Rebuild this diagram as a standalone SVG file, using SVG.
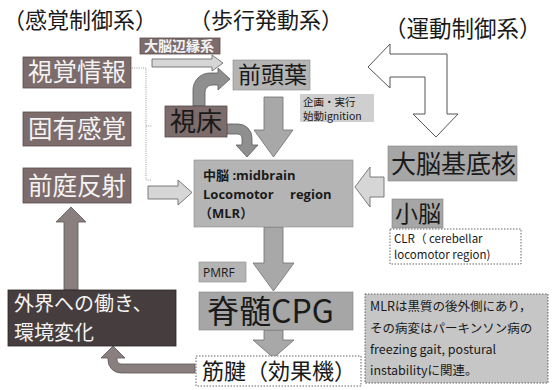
<svg xmlns="http://www.w3.org/2000/svg" width="552" height="390" viewBox="0 0 552 390">
<style>
text{font-family:"Noto Sans CJK JP","Noto Sans",sans-serif;}
.title{font-size:22px;fill:#1a1a1a;}
.dark{fill:#7c6c6c;stroke:#5a4d4d;stroke-width:0.8;}
.light{fill:#b4b4b4;stroke:#8a8a8a;stroke-width:0.6;}
.mid{fill:#a6a6a6;stroke:#808080;stroke-width:0.6;}
.wt{fill:#f4f2f2;}
.bt{fill:#1a1a1a;}
.dotbox{fill:#ffffff;stroke:#555;stroke-width:0.9;stroke-dasharray:1.5 1.5;}
.arrG{fill:#a8a8a8;stroke:#6e6e6e;stroke-width:0.8;}
.arrC{fill:#8f8f8f;stroke:#5c5c5c;stroke-width:0.8;}
.arrM{fill:#8a7f7f;stroke:#5e5555;stroke-width:0.8;}
.arrL{fill:#d6d6d6;stroke:#6e6e6e;stroke-width:0.9;}
.arrW{fill:#ffffff;stroke:#555;stroke-width:1;}
.lat{font-family:"Open Sans","Noto Sans CJK JP",sans-serif;}
</style>

<g id="titles">
<text class="title" x="3" y="28">（感覚制御系）</text>
<text class="title" x="189" y="28">（歩行発動系）</text>
<text class="title" x="384" y="37" style="font-size:22.5px">（運動制御系）</text>
</g>

<g id="connectors">
<path class="arrL" d="M152,59 H212 V55 L223,63 L212,71 V67 H152 Z"/>
<path class="arrC" d="M193,106 V90 A17,17 0 0 1 210,73 H218 V68 L230,79 L218,90 V85 H212 A7,7 0 0 0 205,92 V106 Z"/>
<path class="arrC" d="M227,124 H238 A14,14 0 0 1 252,138 V145 H258 L247,157 L236,145 H242 V138 A4,4 0 0 0 238,134 H227 Z"/>
<path class="arrG" d="M264,97 H283 V130 H293 L273.5,157 L254,130 H264 Z"/>
<path class="arrW" d="M368,67 L390,44 V54 H447 V114 H458 L436,137 L413,114 H425 V77 H390 V88 Z"/>
<path class="arrL" d="M148,186 H178 V180 L192,192.5 L178,205 V199 H148 Z"/>
<path class="arrL" d="M384,177 H370 V167 L355,187 L370,207 V197 H384 Z"/>
<path class="arrG" d="M264,227 H283 V263 H294 L273.5,291 L253,263 H264 Z"/>
<path class="arrG" d="M264,330 H283 V340 H294 L273.5,358 L253,340 H264 Z"/>
<path class="arrM" d="M195,373 H121 A13,13 0 0 1 108,360 V358 H101 L113,346 L125,358 H117 V360 A4,4 0 0 0 121,364 H195 Z"/>
<path class="arrM" d="M64,290 V222 H56 L71,207 L86,222 H78 V290 Z"/>
<path d="M132,68 H146 V180 H152 M146,126 H152" fill="none" stroke="#9a9a9a" stroke-width="1" stroke-dasharray="1 1.2"/>
</g>

<g id="limbic">
<rect class="dark" x="140" y="38" width="80" height="16"/>
<text class="wt" x="144" y="51" style="font-size:14px;font-weight:bold">大脳辺縁系</text>
</g>

<g id="visual">
<rect class="dark" x="23" y="57" width="108" height="31"/>
<text class="wt" x="28" y="81" style="font-size:24.5px">視覚情報</text>
</g>

<g id="proprio">
<rect class="dark" x="23" y="112" width="108" height="34"/>
<text class="wt" x="28" y="138" style="font-size:24.5px">固有感覚</text>
</g>

<g id="vestibular">
<rect class="dark" x="23" y="168" width="108" height="35"/>
<text class="wt" x="28" y="195" style="font-size:24.5px">前庭反射</text>
</g>

<g id="frontal">
<rect class="light" x="233" y="60" width="77" height="30"/>
<text class="bt" x="238" y="83" style="font-size:23px">前頭葉</text>
</g>

<g id="thalamus">
<rect class="dark" x="165" y="106" width="62" height="31"/>
<text class="bt" x="170" y="131" style="font-size:26px">視床</text>
</g>

<g id="ignition">
<rect x="300" y="94" width="74" height="28" fill="#cfcfcf"/>
<text class="bt" x="303" y="106" style="font-size:10.5px">企画・実行</text>
<text class="bt" x="303" y="120" style="font-size:10.5px">始動ignition</text>
</g>

<g id="mlr">
<rect class="light" x="194" y="160" width="159" height="67"/>
<text class="bt lat" x="203" y="180" style="font-size:13px;font-weight:bold">中脳 :midbrain</text>
<text class="bt lat" x="203" y="199" style="font-size:13px;font-weight:bold">Locomotor</text>
<text class="bt lat" x="290" y="199" style="font-size:13px;font-weight:bold">region</text>
<text class="bt lat" x="199" y="218" style="font-size:13px;font-weight:bold">（MLR）</text>
</g>

<g id="basal">
<rect class="mid" x="388" y="146" width="129" height="35"/>
<text class="bt" x="391" y="173" style="font-size:25px">大脳基底核</text>
</g>

<g id="cerebellum">
<rect class="mid" x="392" y="199" width="51" height="29"/>
<text class="bt" x="395" y="222" style="font-size:23px">小脳</text>
</g>

<g id="clr">
<rect class="dotbox" x="390" y="229" width="131" height="35"/>
<text class="bt" x="394" y="243" style="font-size:11.5px">CLR（ cerebellar</text>
<text class="bt" x="394" y="259" style="font-size:11.5px">locomotor region)</text>
</g>

<g id="pmrf">
<rect class="light" x="199" y="262" width="47" height="20"/>
<text class="bt lat" x="203" y="277" style="font-size:12px">PMRF</text>
</g>

<g id="cpg">
<rect class="mid" x="199" y="292" width="154" height="38"/>
<text class="bt" x="207" y="323" style="font-size:32px">脊髄CPG</text>
</g>

<g id="muscle">
<rect class="dotbox" x="196" y="356" width="165" height="30"/>
<text class="bt" x="202" y="379" style="font-size:22px">筋腱（効果機）</text>
</g>

<g id="environment">
<rect x="8" y="290" width="168" height="56" fill="#463e3e" stroke="#2a2424" stroke-width="0.8"/>
<text class="wt" x="14" y="311" style="font-size:20px">外界への働き、</text>
<text class="wt" x="14" y="340" style="font-size:20px">環境変化</text>
</g>

<g id="note">
<rect x="365" y="294" width="183" height="89" fill="#c6c6c6" stroke="#555" stroke-width="0.9" stroke-dasharray="1.5 1.5"/>
<text class="bt" x="370" y="311" style="font-size:12.5px">MLRは黒質の後外側にあり，</text>
<text class="bt" x="370" y="333" style="font-size:12.5px">その病変はパーキンソン病の</text>
<text class="bt" x="370" y="354" style="font-size:12.5px">freezing gait, postural</text>
<text class="bt" x="370" y="375" style="font-size:12.5px">instabilityに関連。</text>
</g>
</svg>
